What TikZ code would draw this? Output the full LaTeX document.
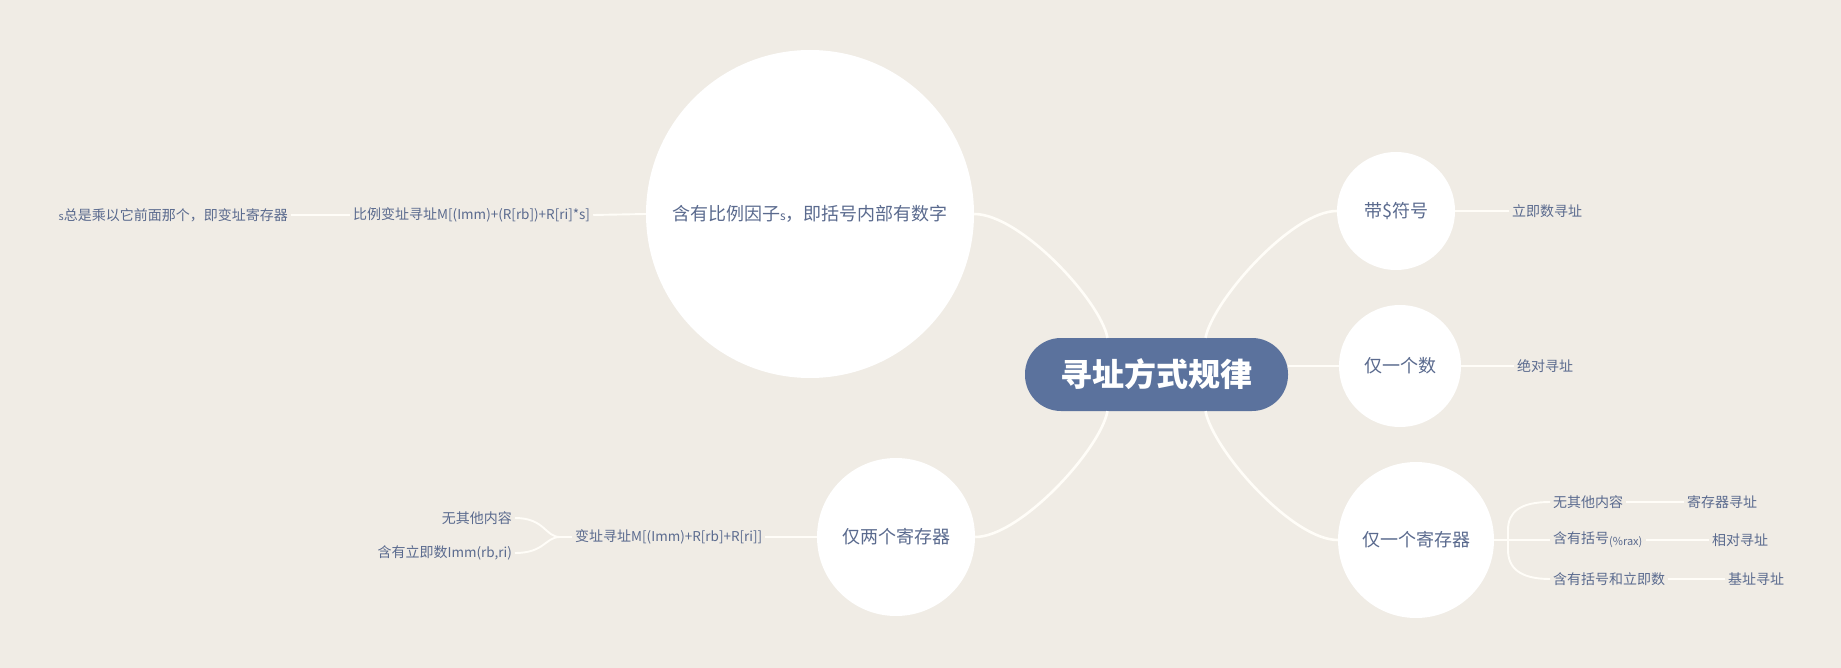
\documentclass[tikz,border=0pt]{standalone}
\usepackage{fontspec}
\setmainfont{Noto Sans CJK SC}
\definecolor{bg}{RGB}{240,236,229}
\definecolor{ln}{RGB}{255,253,248}
\definecolor{txt}{RGB}{90,106,142}
\definecolor{rootc}{RGB}{91,114,157}
\newcommand{\fm}[1]{{\fontsize{13.5}{15}\selectfont #1}}
\begin{document}
\begin{tikzpicture}[x=1pt,y=-1pt,
  lbl/.style={text=txt, inner sep=3pt, font=\fontsize{14}{16}\selectfont},
  bub/.style={circle, fill=white, text=txt, inner sep=0pt, font=\fontsize{18}{20}\selectfont},
  link/.style={draw=ln, line width=2.6pt},
  sub/.style={draw=ln, line width=1.9pt}]
\fill[bg] (0,0) rectangle (1841,668);
\useasboundingbox (0,0) rectangle (1841,668);

% root
\node[rounded corners=36pt, fill=rootc, minimum width=263pt, minimum height=73pt,
      text=white, font=\fontsize{32}{36}\selectfont\bfseries] (root) at (1156.5,374.5) {寻址方式规律};

% first level
\node[bub, minimum size=328pt] (n1) at (810,214) {含有比例因子{\fontsize{12}{14}\selectfont s}，即括号内部有数字};
\node[bub, minimum size=158pt] (n2) at (896,537) {仅两个寄存器};
\node[bub, minimum size=118pt] (n3) at (1396,211) {带\$符号};
\node[bub, minimum size=122pt] (n4) at (1400,366) {仅一个数};
\node[bub, minimum size=156pt] (n5) at (1416,540) {仅一个寄存器};

% leaves
\node[lbl, anchor=west] (n1a) at (350,215) {比例变址寻址\fm{M[(Imm)+(R[rb])+R[ri]*s]}};
\node[lbl, anchor=east] (n1b) at (291,215) {{\fontsize{11}{12}\selectfont s}总是乘以它前面那个，即变址寄存器};
\node[lbl, anchor=west] (n2a) at (572,537) {变址寻址\fm{M[(Imm)+R[rb]+R[ri]]}};
\node[lbl, anchor=east] (n2b) at (515,518) {无其他内容};
\node[lbl, anchor=east] (n2c) at (515,553) {含有立即数\fm{Imm(rb,ri)}};
\node[lbl, anchor=west] (n3a) at (1509,211) {立即数寻址};
\node[lbl, anchor=west] (n4a) at (1514,366) {绝对寻址};
\node[lbl, anchor=west] (n5a) at (1550,502) {无其他内容};
\node[lbl, anchor=west] (n5b) at (1550,540) {含有括号\raisebox{-2pt}{\fontsize{11}{12}\selectfont(\%rax)}};
\node[lbl, anchor=west] (n5c) at (1550,579) {含有括号和立即数};
\node[lbl, anchor=west] (n5a1) at (1684,502) {寄存器寻址};
\node[lbl, anchor=west] (n5b1) at (1709,540) {相对寻址};
\node[lbl, anchor=west] (n5c1) at (1725,579) {基址寻址};

% root connectors
\draw[link] ([xshift=-49pt]root.north) .. controls (1100,300) and (1020,214) .. (n1.east);
\draw[link] ([xshift=-49pt]root.south) .. controls (1100,450) and (1020,537) .. (n2.east);
\draw[link] ([xshift=49pt]root.north) .. controls (1213,300) and (1292,211) .. (n3.west);
\draw[link] ([xshift=49pt]root.south) .. controls (1213,450) and (1292,540) .. (n5.west);
\draw[link] (root.east |- n4.west) -- (n4.west);

% sub connectors
\draw[sub] (n1b.east) -- (n1a.west);
\draw[sub] (n1a.east) -- (n1.west);
\draw[sub] (n2a.east) -- (n2.west);
\coordinate (j2) at (560,537);
\draw[sub] (n2b.east) .. controls (545,518) and (545,537) .. (j2);
\draw[sub] (n2c.east) .. controls (545,553) and (545,537) .. (j2);
\draw[sub] (j2) -- (n2a.west);
\draw[sub] (n3.east) -- (n3a.west);
\draw[sub] (n4.east) -- (n4a.west);
\draw[sub] (n5.east) -- (n5b.west);
\draw[sub] (n5a.west) .. controls (1520,502) and (1508,512) .. (1508,530) -- (1508,550) .. controls (1508,568) and (1520,579) .. (n5c.west);
\draw[sub] (n5a.east) -- (n5a1.west);
\draw[sub] (n5b.east) -- (n5b1.west);
\draw[sub] (n5c.east) -- (n5c1.west);
\end{tikzpicture}
\end{document}
